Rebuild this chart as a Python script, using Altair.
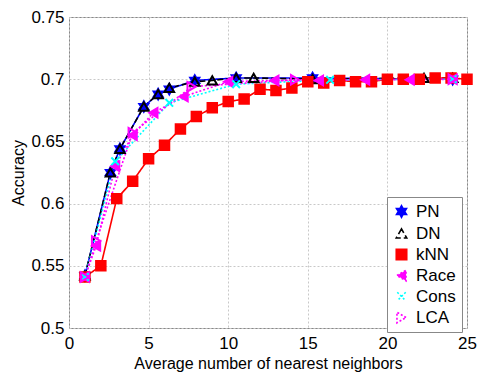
import altair as alt
import pandas as pd

methods = ["PN", "DN", "kNN", "Race", "Cons", "LCA"]

pn_x = [1.0, 2.6, 3.2, 4.7, 5.6, 6.3, 7.9, 10.5, 15.3, 24.1]
pn_y = [0.542, 0.625, 0.644, 0.678, 0.688, 0.692, 0.699, 0.701, 0.701, 0.700]

dn_x = [1.0, 2.6, 3.2, 4.7, 5.6, 6.3, 7.9, 9.0, 10.5, 11.6, 15.3, 22.3, 24.1]
dn_y = [0.542, 0.625, 0.644, 0.678, 0.688, 0.693, 0.698, 0.699, 0.701, 0.701, 0.700, 0.701, 0.701]

knn_x = list(range(1, 26))
knn_y = [0.541, 0.550, 0.604, 0.618, 0.636, 0.647, 0.660, 0.670, 0.677, 0.682,
         0.684, 0.692, 0.691, 0.693, 0.698, 0.697, 0.699, 0.698, 0.698, 0.700,
         0.700, 0.700, 0.701, 0.701, 0.700]

race_x = [1.0, 1.7, 2.9, 4.0, 5.3, 7.2, 10.0, 12.9, 15.7, 18.6, 21.4, 24.1]
race_y = [0.541, 0.566, 0.630, 0.655, 0.673, 0.686, 0.698, 0.699, 0.699, 0.6995, 0.6995, 0.700]

cons_x = [1.0, 2.9, 6.3, 10.5, 16.4, 24.1]
cons_y = [0.541, 0.634, 0.681, 0.696, 0.6995, 0.700]

lca_x = [1.0, 1.7, 4.0, 7.7, 14.2, 24.1]
lca_y = [0.541, 0.570, 0.657, 0.694, 0.6995, 0.700]

series = {
    "PN": (pn_x, pn_y),
    "DN": (dn_x, dn_y),
    "kNN": (knn_x, knn_y),
    "Race": (race_x, race_y),
    "Cons": (cons_x, cons_y),
    "LCA": (lca_x, lca_y),
}

rows = []
for m in methods:
    xs, ys = series[m]
    for i, (a, b) in enumerate(zip(xs, ys)):
        rows.append({"Method": m, "x": a, "y": b, "i": i})
df = pd.DataFrame(rows)

colors = ["#0000FF", "#000000", "#FF0000", "#FF00FF", "#00FFFF", "#FF00FF"]
fills = ["#0000FF", "#FFFFFF00", "#FF0000", "#FF00FF", "#FFFFFF00", "#FFFFFF00"]
hexagram = "M0,-1.1L0.3,-0.55L0.95,-0.55L0.6,0L0.95,0.55L0.3,0.55L0,1.1L-0.3,0.55L-0.95,0.55L-0.6,0L-0.95,-0.55L-0.3,-0.55Z"
xmark = "M-0.8,-0.8L0.8,0.8M0.8,-0.8L-0.8,0.8"
shapes = [hexagram, "triangle-up", "square", "triangle-left", xmark, "triangle-right"]
dashes = [[1, 0], [6, 3], [1, 0], [2, 2], [2, 2], [2, 2]]
widths = [1.6, 1.6, 1.6, 2.4, 2.2, 2.4]

font = "Liberation Sans"

xenc = alt.X("x:Q", scale=alt.Scale(domain=[0, 25], nice=False),
             axis=alt.Axis(values=[0, 5, 10, 15, 20, 25], title="Average number of nearest neighbors",
                           grid=True, gridDash=[2, 2], gridColor="#c8c8c8", ticks=False,
                           labelFontSize=17, titleFontSize=16, labelFont=font, titleFont=font,
                           titleFontWeight="normal", labelColor="black", titleColor="black",
                           domain=False, labelPadding=7, titlePadding=4, labelFlush=False))
yenc = alt.Y("y:Q", scale=alt.Scale(domain=[0.5, 0.75], nice=False),
             axis=alt.Axis(values=[0.5, 0.55, 0.6, 0.65, 0.7, 0.75], format=".2~f", title="Accuracy",
                           grid=True, gridDash=[2, 2], gridColor="#c8c8c8", ticks=False,
                           labelFontSize=17, titleFontSize=16, labelFont=font, titleFont=font,
                           titleFontWeight="normal", labelColor="black", titleColor="black",
                           domain=False, labelPadding=5, titlePadding=4, labelFlush=False))

color = alt.Color("Method:N", scale=alt.Scale(domain=methods, range=colors),
                  legend=alt.Legend(title=None, orient="none", legendX=318, legendY=180,
                                    fillColor="white", strokeColor="#888888", padding=6,
                                    labelFontSize=17, labelFont=font, labelColor="black",
                                    symbolSize=110, rowPadding=3, symbolStrokeWidth=2,
                                    labelOffset=6))

lines = alt.Chart(df).mark_line().encode(
    x=xenc, y=yenc,
    color=color,
    strokeDash=alt.StrokeDash("Method:N", scale=alt.Scale(domain=methods, range=dashes), legend=None),
    strokeWidth=alt.StrokeWidth("Method:N", scale=alt.Scale(domain=methods, range=widths), legend=None),
    detail="Method:N",
    order="i:Q",
)

points = alt.Chart(df).mark_point(filled=False, strokeWidth=2, size=90, opacity=1).encode(
    x=xenc, y=yenc,
    color=color,
    shape=alt.Shape("Method:N", scale=alt.Scale(domain=methods, range=shapes)),
    fill=alt.Fill("Method:N", scale=alt.Scale(domain=methods, range=fills)),
)

chart = alt.layer(lines, points).properties(
    width=398, height=311,
    autosize=alt.AutoSizeParams(type="none"),
    padding={"left": 61, "top": 9, "right": 11, "bottom": 44},
).configure_view(stroke="#888888", strokeWidth=1)

chart.save("out.html", embed_options={"renderer": "svg", "actions": False})
